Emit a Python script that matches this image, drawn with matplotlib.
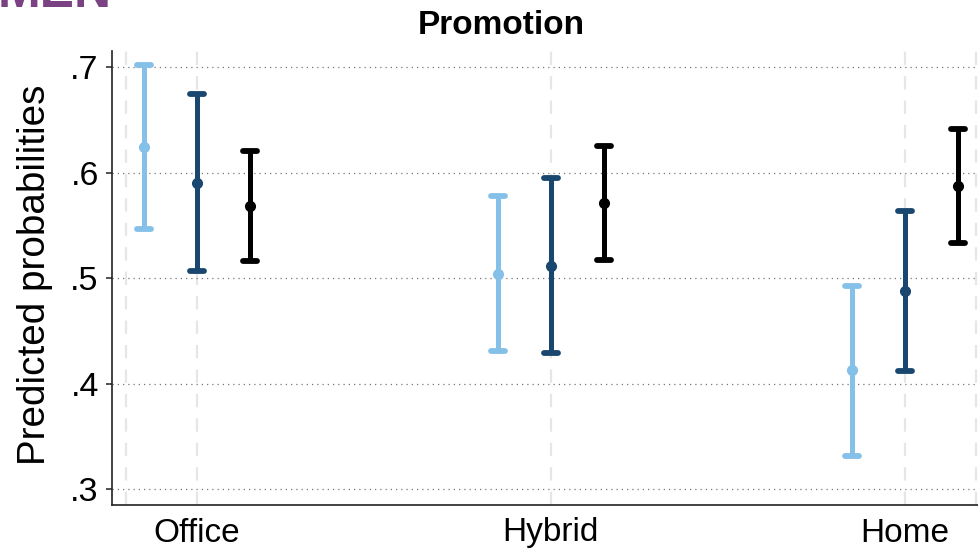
import matplotlib
matplotlib.use('Agg')
import matplotlib.pyplot as plt
from matplotlib.markers import MarkerStyle

plt.rcParams['font.family'] = ['Liberation Sans', 'DejaVu Sans']

# predicted probabilities by work arrangement (point, lower CI, upper CI)
categories = ['Office', 'Hybrid', 'Home']
light_est = [0.624, 0.504, 0.413]
light_lo = [0.547, 0.431, 0.332]
light_hi = [0.702, 0.578, 0.493]
dark_est = [0.5905, 0.512, 0.488]
dark_lo = [0.507, 0.429, 0.412]
dark_hi = [0.675, 0.595, 0.564]
black_est = [0.5685, 0.571, 0.587]
black_lo = [0.516, 0.517, 0.533]
black_hi = [0.6205, 0.6256, 0.641]
yticks = [0.3, 0.4, 0.5, 0.6, 0.7]
ytick_labels = ['.3', '.4', '.5', '.6', '.7']

series = [
    (light_est, light_lo, light_hi, '#85c0e9', -0.15),
    (dark_est, dark_lo, dark_hi, '#1a476f', 0.0),
    (black_est, black_lo, black_hi, '#000000', 0.15),
]

fig = plt.figure(figsize=(9.79, 5.54), dpi=100)
ax = fig.add_axes([112 / 979, 49 / 554, 867 / 979, 454 / 554])

pos = [1, 2, 3]

# background reference lines
for xv in [0.8, 1, 2, 3, 3.2]:
    ax.axvline(xv, color='#e6e6e6', lw=1.6, ls=(0, (6, 5)), zorder=0)
for yv in yticks:
    ax.axhline(yv, color='#777777', lw=0.9, ls=(0, (1, 3.2)), zorder=0)

round_cap = MarkerStyle('_', capstyle='round')
for est, lo, hi, col, off in series:
    xs = [p + off for p in pos]
    err = [[e - l for e, l in zip(est, lo)], [h - e for e, h in zip(est, hi)]]
    _, caps, _ = ax.errorbar(xs, est, yerr=err, fmt='o', color=col, ecolor=col,
                             elinewidth=3.6, capsize=4.8, capthick=4.2,
                             markersize=7, zorder=3)
    for c in caps:
        c.set_marker(round_cap)

ax.set_xlim(0.761, 3.209)
ax.set_ylim(0.2851, 0.7154)
ax.set_xticks(pos)
ax.set_xticklabels(categories, fontsize=24)
ax.set_yticks(yticks)
ax.set_yticklabels(ytick_labels, fontsize=24.5)
ax.tick_params(axis='x', length=0, pad=9)
ax.tick_params(axis='y', length=4.5, width=1.2, color='#333333', pad=5)

for side in ['top', 'right']:
    ax.spines[side].set_visible(False)
for side in ['left', 'bottom']:
    ax.spines[side].set_linewidth(1.2)
    ax.spines[side].set_color('#222222')

fig.text(35 / 979, 279 / 554, 'Predicted probabilities', rotation=90,
         ha='center', va='center', fontsize=27.8)
fig.text(501 / 979, 1 - 25 / 554, 'Promotion', ha='center', va='center',
         fontsize=24, fontweight='bold')
fig.text(-2 / 979, 1 - 7 / 554, 'MEN', ha='left', va='baseline',
         fontsize=37, fontweight='bold', color='#7a4283')

fig.savefig('out.png', dpi=100)
